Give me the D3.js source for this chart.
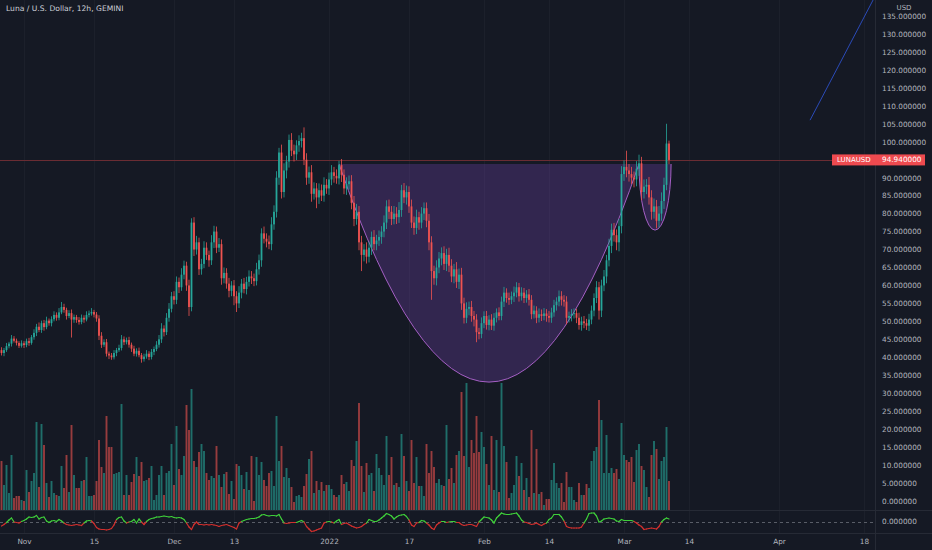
<!DOCTYPE html>
<html>
<head>
<meta charset="utf-8">
<script src="https://cdn.jsdelivr.net/npm/d3@7"></script>
<style>
html, body { margin: 0; padding: 0; background: #151924; }
svg { display: block; font-family: "DejaVu Sans", sans-serif; }
</style>
</head>
<body>
<svg id="chart" width="932" height="550"></svg>
<script>
var title = "Luna / U.S. Dollar, 12h, GEMINI";
var symbol = "LUNAUSD";
var lastPrice = 94.94;

// 12h bars, first one opens 27 Oct 2021 12:00 UTC
var firstBar = Date.UTC(2021, 9, 27, 12);
var barMs = 12 * 3600 * 1000;
var firstOpen = 42.0;

var closes = [
    41.2,42.0,43.1,43.8,45.2,44.6,44.0,43.2,43.9,43.4,
    44.5,44.0,45.6,46.8,48.5,47.6,49.5,48.4,50.2,49.5,
    50.6,51.8,51.0,52.5,54.0,53.2,51.5,52.3,50.5,51.2,
    50.4,49.8,51.0,50.5,51.8,52.2,52.6,51.9,50.8,46.0,
    43.5,44.2,41.0,40.5,40.0,41.2,42.0,42.6,45.0,44.2,
    44.8,43.5,42.4,41.0,41.8,40.6,39.5,40.2,41.0,40.1,
    41.5,42.3,43.5,45.0,48.0,47.0,51.0,53.5,57.0,56.0,
    61.0,59.5,63.0,65.5,60.0,54.0,77.5,70.0,72.0,64.5,
    66.0,70.5,68.5,67.0,72.0,75.0,70.5,71.5,62.0,63.5,
    60.5,58.5,60.0,57.0,55.0,58.0,60.5,59.0,61.0,62.5,
    62.0,61.2,64.5,67.0,74.5,73.0,72.2,71.5,77.0,80.5,
    90.0,97.0,86.0,92.0,94.5,100.5,97.5,96.5,99.0,100.2,
    101.0,95.0,90.0,91.5,85.5,87.0,84.5,86.5,85.0,88.0,
    87.0,89.5,91.5,90.5,89.8,93.5,90.8,87.0,88.2,89.0,
    83.0,78.5,80.5,72.0,68.5,70.0,68.0,70.5,73.5,71.5,
    72.5,73.5,75.0,77.5,82.0,80.5,78.5,80.0,79.0,81.0,
    86.5,84.5,86.0,82.0,77.5,76.0,79.0,77.5,80.0,81.5,
    78.0,72.0,64.0,62.0,65.0,67.5,69.0,66.0,68.5,65.5,
    62.5,64.5,61.0,63.0,55.0,51.0,53.5,54.0,51.5,50.5,
    47.0,46.5,49.5,51.5,49.0,50.5,48.8,51.0,52.5,51.5,
    55.5,58.0,56.5,56.0,57.0,58.0,59.5,57.0,58.0,56.5,
    57.5,56.0,52.0,53.0,51.0,52.0,51.5,52.2,51.5,51.0,
    52.5,54.5,55.5,57.0,56.0,55.5,51.0,51.5,52.0,52.3,
    51.0,49.0,50.0,49.5,48.8,50.5,53.0,56.5,59.5,53.0,
    60.0,62.5,67.0,71.0,75.5,74.0,72.0,76.5,91.0,93.0,
    92.0,91.0,90.0,89.5,92.5,94.0,86.0,87.5,88.0,84.5,
    80.5,82.0,78.0,80.0,83.5,88.0,99.5,94.94
];

// wick length above the body top / below the body bottom
var wickHi = [
    0.8,0.6,0.9,0.5,1.0,0.7,0.6,0.5,0.8,0.6,
    0.7,0.9,0.6,1.0,0.8,1.2,0.7,0.9,1.1,0.6,
    0.8,1.0,0.7,1.2,1.4,0.9,0.6,0.8,1.0,0.7,
    0.6,0.8,0.9,0.7,1.0,0.8,1.1,0.6,0.7,0.9,
    1.0,0.8,0.9,0.6,0.7,0.8,0.6,0.9,1.2,0.8,
    0.7,0.9,0.6,0.8,0.7,0.9,0.6,0.8,1.0,0.7,
    0.8,0.7,1.0,1.2,1.5,0.9,1.3,1.6,1.2,1.4,
    1.5,1.2,1.8,1.4,1.1,1.6,1.2,1.5,1.8,1.3,
    1.4,1.8,1.5,1.2,2.0,1.6,1.4,1.7,1.3,1.5,
    1.3,1.6,1.2,1.5,1.4,1.8,1.3,1.6,1.4,1.7,
    1.5,1.3,1.8,1.6,1.4,1.9,1.5,1.7,2.0,1.8,
    1.8,1.3,2.2,2.0,1.6,1.5,1.9,1.7,1.4,1.6,
    1.5,3.0,1.8,1.6,2.0,1.7,1.5,1.9,1.6,2.1,
    1.6,1.9,2.0,1.5,1.8,1.2,1.7,1.5,1.9,1.6,
    1.7,1.9,2.2,1.6,1.8,1.5,2.0,1.7,1.5,1.9,
    1.6,1.8,1.5,2.0,1.7,1.9,1.6,2.1,1.8,2.2,
    1.5,2.0,1.8,1.6,1.9,1.7,2.1,1.5,1.8,1.6,
    1.6,1.9,1.7,1.5,2.0,1.8,1.6,1.9,1.7,2.0,
    1.8,1.5,2.0,1.7,1.9,1.6,1.8,1.5,1.7,1.4,
    1.5,1.2,1.6,1.3,1.4,1.2,1.5,1.3,1.1,1.4,
    1.4,1.6,1.2,1.5,1.3,1.7,1.4,1.2,1.5,1.3,
    1.2,1.5,1.3,1.4,1.2,1.6,1.3,1.5,1.2,1.4,
    1.3,1.5,1.2,1.6,1.4,1.3,1.5,1.2,1.4,1.3,
    1.2,1.4,1.3,1.5,1.2,1.6,1.4,1.3,1.7,1.5,
    1.6,1.8,1.5,2.0,1.7,1.9,1.6,2.0,2.2,1.8,
    4.5,1.8,2.0,1.7,2.1,2.4,1.8,2.0,1.6,2.2,
    2.0,2.2,1.8,2.1,2.4,2.0,5.5,0.8
];
var wickLo = [
    0.7,0.9,0.5,0.6,0.8,0.5,0.7,0.6,0.5,0.8,
    0.6,0.8,0.5,0.7,0.9,0.6,0.8,1.0,0.6,0.7,
    0.9,0.6,0.8,0.7,0.5,0.8,1.0,0.6,5.0,0.9,
    0.8,0.7,0.6,0.9,0.5,0.7,0.6,0.8,0.9,1.2,
    0.9,0.6,0.8,1.0,0.7,0.6,0.9,0.5,0.7,0.8,
    0.6,0.8,0.9,0.7,0.8,0.6,1.0,0.7,0.6,0.9,
    0.7,0.9,0.6,0.8,1.0,1.2,0.8,1.1,1.0,1.3,
    1.2,1.6,1.0,1.3,1.5,2.5,1.2,1.8,1.4,1.6,
    1.5,1.2,1.4,1.8,1.3,1.6,1.5,1.2,1.8,1.4,
    1.4,1.8,1.5,2.5,2.4,1.3,1.6,1.2,1.5,1.3,
    1.6,1.4,1.2,1.5,1.8,1.3,1.6,1.4,1.7,1.5,
    1.6,2.0,1.8,1.5,2.2,1.7,1.5,2.0,1.6,1.8,
    1.8,1.5,2.0,1.7,2.2,1.6,3.0,1.8,1.5,1.7,
    1.5,1.8,1.6,1.9,1.5,1.7,2.0,1.6,1.8,1.5,
    1.8,2.0,1.6,2.2,4.5,1.8,1.9,1.6,2.0,1.7,
    1.7,1.5,1.9,1.6,1.8,2.0,1.7,1.5,1.9,1.6,
    1.9,1.6,2.0,1.8,1.5,1.9,1.7,2.0,1.6,1.8,
    1.8,2.2,8.0,1.8,2.0,1.6,1.9,1.7,2.0,1.8,
    1.6,1.9,1.7,2.0,1.8,1.6,1.5,1.8,1.6,1.9,
    2.8,1.5,1.2,1.4,1.3,1.5,1.2,1.4,1.3,1.2,
    1.2,1.5,1.3,1.4,1.2,1.6,1.3,1.5,1.2,1.4,
    1.3,1.6,1.4,1.2,1.5,1.3,1.4,1.2,1.6,1.3,
    1.4,1.2,1.5,1.3,1.6,1.4,1.8,1.3,1.5,1.2,
    1.5,1.3,1.6,1.4,1.2,1.5,1.3,1.6,1.4,2.5,
    1.8,1.6,1.9,1.7,2.0,1.8,2.2,2.5,2.0,1.9,
    1.9,2.1,1.8,2.2,1.9,2.0,2.3,1.8,2.1,2.0,
    2.2,1.9,2.1,1.8,2.0,2.2,1.5,1.2
];

var volumes = [
    49,25,45,17,55,12,14,14,10,9,
    40,18,29,37,88,23,86,65,27,13,
    29,17,15,14,44,22,55,18,85,35,
    22,22,29,30,53,14,14,15,29,70,
    43,37,94,63,63,36,37,38,106,15,
    35,15,28,36,53,34,48,29,30,32,
    44,10,15,35,44,15,37,39,66,25,
    84,41,35,54,105,80,121,49,43,58,
    66,59,37,30,34,32,64,35,23,36,
    38,16,29,11,46,44,35,21,38,20,
    54,9,53,35,48,30,24,37,39,24,
    94,49,64,33,42,32,23,8,14,15,
    13,24,36,51,59,17,29,20,28,19,
    25,25,21,15,13,15,35,26,28,19,
    50,44,69,107,44,18,47,35,37,19,
    56,42,35,25,74,35,53,25,27,23,
    76,54,29,19,70,27,53,24,24,14,
    66,37,59,43,27,31,25,24,85,31,
    42,27,55,59,118,54,127,43,70,57,
    94,58,78,63,46,25,74,20,70,18,
    127,64,48,12,17,25,54,34,47,20,
    32,13,80,17,61,16,18,5,11,11,
    30,47,27,22,27,8,38,23,23,10,
    8,27,15,15,26,22,49,59,63,110,
    90,37,75,37,42,37,41,31,87,55,
    50,48,53,28,60,66,44,40,23,13,
    55,69,61,31,49,53,83,29
];

// lower pane oscillator
var osc = [
    -4,-2.5,-0.5,2,4,0,-0.5,-1,0.5,1.5,
    3,5,4.5,5,6.5,3,4.5,5,1,-0.5,
    1,1.5,0.5,2.5,1,-1,-2.5,-3,-3.5,-3,
    -2.5,-3,-3.5,-1,1,1.5,1,-1.5,-5.5,-7,
    -7.5,-7.5,-8,-7.5,-6.5,-3,2.5,4.5,5,1,
    -1,0,0.5,2.5,-1,3,0,-2.5,0.5,2.5,
    3.5,4,5,5,5.5,6,5.5,5,5.5,4.5,
    4,4.5,4,2.5,-1,-5,-7.5,-2.5,0,-2.5,
    -2.5,-3,-2.5,-3,-2.5,-3,-3.5,-4.5,-3.5,-3,
    -2.5,-3.5,-4.5,-5.5,-7,-1,0.5,1.5,2.5,3,
    3.5,3.5,4,5,7,7.5,6.5,6,6.5,6.5,
    6,7.5,3,-1,-1.5,-1,-0.5,-0.5,-0.5,0.5,
    1.5,0,-4.5,-7,-9.5,-9,-8,-7,-6,-1,
    0,0.5,0,-1,1,2.5,-2.5,-1.5,-1,-2.5,
    -4,-5,-6,-5.5,-4.5,-2.5,-1,2.5,1.5,0.5,
    0.5,2,4,6,8.5,7.5,6,3,5,6.5,
    7,7.5,5.5,2,-3,-4.5,-1,-0.5,1.5,1,
    -1,-3,-6,-7.5,-3,-1,0.5,0.5,-0.5,0,
    0.5,0.5,-0.5,-0.5,-2.5,-3.5,-3,-2.5,-2.5,-3.5,
    -4.5,0,2.5,5,4.5,4,2,-1,4,6.5,
    9,8,7.5,7.5,8,8.5,9,6,2,0,
    -0.5,-1.5,-2.5,-2,-1,-2.5,-3.5,-2,-1,2.5,
    4,7.5,7.5,7.5,5,1,-4.5,-5.5,-6,-6,
    -6,-6,-5,-1,3,8.5,9,9,6,0,
    1,3,3.5,4,3.5,3,1,0.5,2.5,1.5,
    1.5,1.5,1.5,0.5,-1,-3,-4.5,-7.5,-7,-6.5,
    -6,-6.5,-7,-4.5,0,2.5,4,3
];

var tickDates = ["2021-11-01","2021-11-15","2021-12-01","2021-12-13","2022-01-01","2022-01-17",
                 "2022-02-01","2022-02-14","2022-03-01","2022-03-14","2022-04-01","2022-04-18"];
var tickLabels = ["Nov","15","Dec","13","2022","17","Feb","14","Mar","14","Apr","18"];
var priceTicks = [0,5,10,15,20,25,30,35,40,45,50,55,60,65,70,75,80,85,90,95,100,105,110,115,120,125,130,135];

// drawings: cup (left rim, bottom, right rim), handle, trend line
var cupPoints = [["2022-01-03T00:00Z", 93.8], ["2022-02-02T00:00Z", 33.1], ["2022-03-04T00:00Z", 93.8]];
var handlePoints = [["2022-03-04T00:00Z", 93.8], ["2022-03-07T05:00Z", 75.4], ["2022-03-10T10:00Z", 93.8]];
var trendPoints = [["2022-04-07T05:00Z", 106], ["2022-04-20T05:00Z", 140.5]];

var upColor = "#26a69a", downColor = "#ef5350";
var drawFill = "rgba(120,70,180,0.3)", drawStroke = "#a45fc4";
var paneRight = 875;

var svg = d3.select("#chart");
svg.append("rect").attr("width", 932).attr("height", 550).attr("fill", "#151924");

var x = d3.scaleUtc()
    .domain([new Date("2021-11-01T00:00Z"), new Date("2022-04-18T00:00Z")])
    .range([24, 864]);
var y = d3.scaleLinear().domain([0, 135]).range([501, 16]);
var yVol = d3.scaleLinear().domain([0, 127]).range([510, 383]);
var yOsc = d3.scaleLinear().domain([-11, 11]).range([533, 511]);

var bars = closes.map(function(c, i) {
    var o = i === 0 ? firstOpen : closes[i - 1];
    return {
        t: new Date(firstBar + i * barMs),
        o: o,
        c: c,
        h: Math.max(o, c) + wickHi[i],
        l: Math.min(o, c) - wickLo[i],
        v: volumes[i],
        m: osc[i]
    };
});

var defs = svg.append("defs");
defs.append("clipPath").attr("id", "mainClip")
    .append("rect").attr("x", 0).attr("y", 0).attr("width", paneRight).attr("height", 510);

// vertical grid
svg.append("g").selectAll("line").data(tickDates).enter().append("line")
    .attr("x1", function(d) { return Math.round(x(new Date(d + "T00:00Z"))) + 0.5; })
    .attr("x2", function(d) { return Math.round(x(new Date(d + "T00:00Z"))) + 0.5; })
    .attr("y1", 0).attr("y2", 533)
    .attr("stroke", "#1c202b").attr("stroke-width", 1);

// pane separators
svg.append("line").attr("x1", 0).attr("x2", 932).attr("y1", 510.5).attr("y2", 510.5)
    .attr("stroke", "#262a35");
svg.append("line").attr("x1", 0).attr("x2", 932).attr("y1", 533.5).attr("y2", 533.5)
    .attr("stroke", "#262a35");
svg.append("line").attr("x1", paneRight + 0.5).attr("x2", paneRight + 0.5).attr("y1", 0).attr("y2", 550)
    .attr("stroke", "#262a35");

var main = svg.append("g").attr("clip-path", "url(#mainClip)");

// cup and handle
function pt(p) { return [x(new Date(p[0])), y(p[1])]; }
var cL = pt(cupPoints[0]), cB = pt(cupPoints[1]), cR = pt(cupPoints[2]);
var ctrlY = 2 * cB[1] - cL[1];
var cupCurve = "M" + cL[0] + "," + cL[1] + " Q" + cB[0] + "," + ctrlY + " " + cR[0] + "," + cR[1];
main.append("path").attr("d", cupCurve + " Z")
    .attr("fill", drawFill).attr("stroke", "none");
main.append("path").attr("d", cupCurve)
    .attr("fill", "none").attr("stroke", drawStroke).attr("stroke-width", 1);

var hL = pt(handlePoints[0]), hB = pt(handlePoints[1]), hR = pt(handlePoints[2]);
var rx = (hR[0] - hL[0]) / 2, ry = hB[1] - hL[1];
var handleCurve = "M" + hL[0] + "," + hL[1] + " A" + rx + "," + ry + " 0 0 0 " + hR[0] + "," + hR[1];
main.append("path").attr("d", handleCurve + " Z")
    .attr("fill", drawFill).attr("stroke", "none");
main.append("path").attr("d", handleCurve)
    .attr("fill", "none").attr("stroke", drawStroke).attr("stroke-width", 1);

// last price line
main.append("line")
    .attr("x1", 0).attr("x2", paneRight)
    .attr("y1", Math.round(y(lastPrice)) + 0.5).attr("y2", Math.round(y(lastPrice)) + 0.5)
    .attr("stroke", "#6a2c33").attr("stroke-width", 1);

// volume
main.append("g").selectAll("rect").data(bars).enter().append("rect")
    .attr("x", function(d) { return x(d.t) - 0.95; })
    .attr("width", 1.9)
    .attr("y", function(d) { return yVol(d.v); })
    .attr("height", function(d) { return yVol(0) - yVol(d.v); })
    .attr("fill", function(d) { return d.c >= d.o ? upColor : downColor; })
    .attr("opacity", 0.6);

// candles
var candle = main.append("g").selectAll("g").data(bars).enter().append("g");
candle.append("line")
    .attr("x1", function(d) { return x(d.t); })
    .attr("x2", function(d) { return x(d.t); })
    .attr("y1", function(d) { return y(d.h); })
    .attr("y2", function(d) { return y(d.l); })
    .attr("stroke", function(d) { return d.c >= d.o ? upColor : downColor; })
    .attr("stroke-width", 0.8);
candle.append("rect")
    .attr("x", function(d) { return x(d.t) - 0.9; })
    .attr("width", 1.8)
    .attr("y", function(d) { return y(Math.max(d.o, d.c)); })
    .attr("height", function(d) { return Math.max(0.8, Math.abs(y(d.o) - y(d.c))); })
    .attr("fill", function(d) { return d.c >= d.o ? upColor : downColor; });

// trend line
var t0 = pt(trendPoints[0]), t1 = pt(trendPoints[1]);
main.append("line")
    .attr("x1", t0[0]).attr("y1", t0[1]).attr("x2", t1[0]).attr("y2", t1[1])
    .attr("stroke", "#2b4bb8").attr("stroke-width", 1);

// oscillator pane
svg.append("line").attr("x1", 0).attr("x2", paneRight)
    .attr("y1", yOsc(0) + 0.5).attr("y2", yOsc(0) + 0.5)
    .attr("stroke", "#6b6e78").attr("stroke-width", 0.8).attr("stroke-dasharray", "3,3");
var segs = bars.slice(1).map(function(d, i) { return [bars[i], d]; });
svg.append("g").selectAll("line").data(segs).enter().append("line")
    .attr("x1", function(s) { return x(s[0].t); })
    .attr("y1", function(s) { return yOsc(s[0].m); })
    .attr("x2", function(s) { return x(s[1].t); })
    .attr("y2", function(s) { return yOsc(s[1].m); })
    .attr("stroke", function(s) { return (s[0].m + s[1].m) / 2 >= 0 ? "#3fcf3a" : "#d2302e"; })
    .attr("stroke-width", 1.2)
    .attr("stroke-linecap", "round");

// price axis
var yAxis = svg.append("g").attr("transform", "translate(" + paneRight + ",0)")
    .call(d3.axisRight(y).tickValues(priceTicks).tickSize(0).tickPadding(7)
        .tickFormat(function(d) { return d.toFixed(6); }));
yAxis.select(".domain").remove();
yAxis.selectAll("text").attr("fill", "#b2b5be").attr("font-size", "7.3px")
    .attr("font-family", "DejaVu Sans, sans-serif");

svg.append("text").attr("x", 882).attr("y", yOsc(0)).attr("dy", "0.32em")
    .attr("fill", "#b2b5be").attr("font-size", "7.3px").text((0).toFixed(6));
svg.append("text").attr("x", 904).attr("y", 8).attr("dy", "0.32em").attr("text-anchor", "middle")
    .attr("fill", "#b2b5be").attr("font-size", "7px").text("USD");

// last price label
var ly = y(lastPrice);
svg.append("rect").attr("x", 832).attr("y", ly - 5.5).attr("width", 93).attr("height", 11)
    .attr("fill", "#ee4a4f");
svg.append("text").attr("x", 837).attr("y", ly).attr("dy", "0.35em")
    .attr("fill", "#ffffff").attr("font-size", "7px").text(symbol);
svg.append("text").attr("x", 882).attr("y", ly).attr("dy", "0.35em")
    .attr("fill", "#ffffff").attr("font-size", "7.3px").text(lastPrice.toFixed(6));

// time axis
var xAxis = svg.append("g").attr("transform", "translate(0,533)")
    .call(d3.axisBottom(x)
        .tickValues(tickDates.map(function(d) { return new Date(d + "T00:00Z"); }))
        .tickSize(0).tickPadding(6)
        .tickFormat(function(d, i) { return tickLabels[i]; }));
xAxis.select(".domain").remove();
xAxis.selectAll("text").attr("fill", "#b2b5be").attr("font-size", "7.3px")
    .attr("font-family", "DejaVu Sans, sans-serif");

// title
svg.append("text").attr("x", 6).attr("y", 11)
    .attr("fill", "#cdd0d8").attr("font-size", "7.6px").text(title);
</script>
</body>
</html>
